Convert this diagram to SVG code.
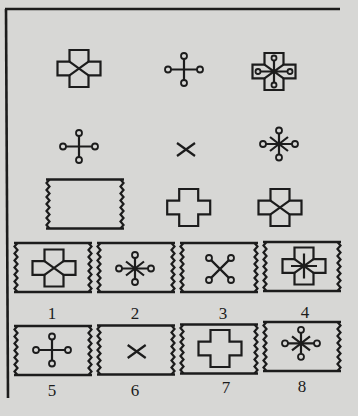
<svg xmlns="http://www.w3.org/2000/svg" xmlns:xlink="http://www.w3.org/1999/xlink" width="358" height="416" viewBox="0 0 358 416">
  <style>
    .ln { fill: none; stroke: #1c1c1c; stroke-width: 2.2; stroke-linejoin: miter; stroke-linecap: butt; }
    .th { fill: none; stroke: #1c1c1c; stroke-width: 2.6; }
    .cir { fill: none; stroke: #1c1c1c; stroke-width: 1.8; }
    .lbl { font-family: "Liberation Serif", "Times New Roman", serif; font-size: 17px; fill: #1c1c1c; text-anchor: middle; }
  </style>
  <defs>
    <path id="crossShape" class="ln" d="M-9.5,-18.5 H9.5 V-6.8 H21.5 V6.8 H9.5 V18.5 H-9.5 V6.8 H-21.5 V-6.8 H-9.5 Z"/>
    <g id="box">
      <path class="th" d="M0,0 H78 M0,49 H78"/>
      <path class="ln" stroke-width="1.7" d="M3.5,0 l-3,3.5 3,3.5 -3,3.5 3,3.5 -3,3.5 3,3.5 -3,3.5 3,3.5 -3,3.5 3,3.5 -3,3.5 3,3.5 -3,3.5 3,3.5"/>
      <path class="ln" stroke-width="1.7" d="M74.5,0 l3,3.5 -3,3.5 3,3.5 -3,3.5 3,3.5 -3,3.5 3,3.5 -3,3.5 3,3.5 -3,3.5 3,3.5 -3,3.5 3,3.5 -3,3.5"/>
    </g>
    <g id="cx">
      <use href="#crossShape" xlink:href="#crossShape"/>
      <path class="ln" stroke-width="1.8" d="M-9.5,-6.8 L9.5,6.8 M9.5,-6.8 L-9.5,6.8"/>
    </g>
    <g id="pc">
      <path class="ln" d="M-13,0 H13 M0,-10.5 V10.5"/>
      <circle class="cir" cx="-16" cy="0" r="3"/>
      <circle class="cir" cx="16" cy="0" r="3"/>
      <circle class="cir" cx="0" cy="-13.5" r="3"/>
      <circle class="cir" cx="0" cy="13.5" r="3"/>
    </g>
    <g id="ap">
      <use href="#pc" xlink:href="#pc"/>
      <path class="ln" d="M-9,-7 L9,7 M9,-7 L-9,7"/>
    </g>
    <path id="xx" class="ln" d="M-9,-6.5 L9,6.5 M9,-6.5 L-9,6.5"/>
    <g id="xp">
      <path class="ln" d="M-8.9,-8.9 L8.9,8.9 M8.9,-8.9 L-8.9,8.9"/>
      <circle class="cir" cx="-11" cy="-11" r="3"/>
      <circle class="cir" cx="11" cy="-11" r="3"/>
      <circle class="cir" cx="-11" cy="11" r="3"/>
      <circle class="cir" cx="11" cy="11" r="3"/>
    </g>
    <g id="ca">
      <use href="#crossShape" xlink:href="#crossShape"/>
      <path class="ln" stroke-width="1.8" d="M0,-12.5 V12.5 M-13,0 H13 M-9.5,-6.8 L9.5,6.8 M9.5,-6.8 L-9.5,6.8"/>
    </g>
    <g id="cpx">
      <use href="#crossShape" xlink:href="#crossShape"/>
      <path class="ln" stroke-width="1.6" d="M-9.5,-6.8 L9.5,6.8 M9.5,-6.8 L-9.5,6.8 M-13.5,0 H13.5 M0,-11 V11"/>
      <circle class="cir" cx="-16" cy="0" r="2.5"/>
      <circle class="cir" cx="16" cy="0" r="2.5"/>
      <circle class="cir" cx="0" cy="-13.5" r="2.5"/>
      <circle class="cir" cx="0" cy="13.5" r="2.5"/>
    </g>
  </defs>

  <rect x="0" y="0" width="358" height="416" fill="#d7d7d5"/>

  <g id="frame">
    <path class="th" d="M5,9 H340"/>
    <path class="th" d="M6,9 L8,398"/>
  </g>

  <g id="matrix">
    <g id="r1c1"><use href="#cx" xlink:href="#cx" x="79" y="68.5"/></g>
    <g id="r1c2"><use href="#pc" xlink:href="#pc" x="184" y="69.5"/></g>
    <g id="r1c3"><use href="#cpx" xlink:href="#cpx" x="274" y="71.5"/></g>
    <g id="r2c1"><use href="#pc" xlink:href="#pc" x="79" y="146.5"/></g>
    <g id="r2c2"><use href="#xx" xlink:href="#xx" x="186" y="149.5"/></g>
    <g id="r2c3"><use href="#ap" xlink:href="#ap" x="279" y="144"/></g>
    <g id="r3c1"><use href="#box" xlink:href="#box" x="46" y="179.5"/></g>
    <g id="r3c2"><use href="#crossShape" xlink:href="#crossShape" x="188.7" y="207.5"/></g>
    <g id="r3c3"><use href="#cx" xlink:href="#cx" x="280" y="207.5"/></g>
  </g>

  <g id="opt1"><use href="#box" xlink:href="#box" x="14" y="243"/><use href="#cx" xlink:href="#cx" x="54" y="268"/><text class="lbl" x="52" y="319">1</text></g>
  <g id="opt2"><use href="#box" xlink:href="#box" x="97" y="243"/><use href="#ap" xlink:href="#ap" x="135" y="268.5"/><text class="lbl" x="135" y="319">2</text></g>
  <g id="opt3"><use href="#box" xlink:href="#box" x="180" y="243"/><use href="#xp" xlink:href="#xp" x="220" y="269"/><text class="lbl" x="223" y="319">3</text></g>
  <g id="opt4"><use href="#box" xlink:href="#box" x="263" y="242"/><use href="#ca" xlink:href="#ca" x="304" y="266"/><text class="lbl" x="305" y="318">4</text></g>

  <g id="opt5"><use href="#box" xlink:href="#box" x="14" y="326"/><use href="#pc" xlink:href="#pc" x="52" y="350"/><text class="lbl" x="52" y="396">5</text></g>
  <g id="opt6"><use href="#box" xlink:href="#box" x="97" y="325.5"/><use href="#xx" xlink:href="#xx" x="136.7" y="351.5"/><text class="lbl" x="135" y="396">6</text></g>
  <g id="opt7"><use href="#box" xlink:href="#box" x="180" y="324.5"/><use href="#crossShape" xlink:href="#crossShape" x="220" y="348.5"/><text class="lbl" x="226" y="393">7</text></g>
  <g id="opt8"><use href="#box" xlink:href="#box" x="263" y="322"/><use href="#ap" xlink:href="#ap" x="301" y="343.3"/><text class="lbl" x="302" y="392">8</text></g>
</svg>
